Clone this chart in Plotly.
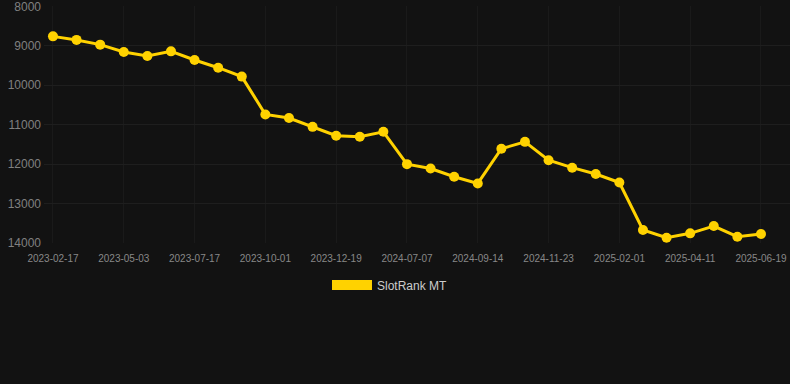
import plotly.graph_objects as go

dates = [
    "2023-02-17", "2023-03-14", "2023-04-08", "2023-05-03", "2023-05-28", "2023-06-22",
    "2023-07-17", "2023-08-11", "2023-09-06", "2023-10-01", "2023-10-27", "2023-11-22",
    "2023-12-19", "2024-02-15", "2024-05-10", "2024-07-07", "2024-07-30", "2024-08-22",
    "2024-09-14", "2024-10-07", "2024-10-31", "2024-11-23", "2024-12-16", "2025-01-09",
    "2025-02-01", "2025-02-24", "2025-03-19", "2025-04-11", "2025-05-04", "2025-05-27",
    "2025-06-19",
]
rank = [
    8760, 8850, 8970, 9155, 9260, 9140,
    9360, 9555, 9780, 10740, 10830, 11055,
    11280, 11305, 11180, 12000, 12110, 12320,
    12490, 11610, 11435, 11900, 12090, 12250,
    12465, 13670, 13865, 13755, 13570, 13840,
    13770,
]
tick_labels = dates[::3]
y_ticks = [8000, 9000, 10000, 11000, 12000, 13000, 14000]
series_name = "SlotRank MT"
gold = "#FFD200"

fig = go.Figure()
fig.add_trace(go.Scatter(
    x=dates, y=rank, mode="lines+markers", name=series_name, showlegend=False,
    line=dict(color=gold, width=3), marker=dict(color=gold, size=10),
))
fig.add_trace(go.Scatter(
    x=[None], y=[None], mode="lines", name=series_name, showlegend=True,
    line=dict(color=gold, width=12),
))

fig.update_layout(
    width=790, height=384,
    paper_bgcolor="#121212", plot_bgcolor="#121212",
    margin=dict(l=44, r=0, t=6, b=141),
    font=dict(family="Liberation Sans, Arial, sans-serif", color="#999999"),
    showlegend=True,
    legend=dict(orientation="h", x=0.4638, xanchor="center", y=-0.177, yanchor="middle",
                font=dict(size=12, color="#cccccc"), itemwidth=40,
                bgcolor="rgba(0,0,0,0)"),
    xaxis=dict(
        type="category", categoryorder="array", categoryarray=dates,
        range=[-0.38, 31.23],
        tickmode="array", tickvals=tick_labels, ticktext=tick_labels,
        showgrid=True, gridcolor="#1a1a1a", gridwidth=1,
        zeroline=False, showline=False, ticks="",
        tickfont=dict(size=10, color="#888888"),
        ticklabelstandoff=8,
    ),
    yaxis=dict(
        range=[14000, 7990],
        tickmode="array", tickvals=y_ticks, ticktext=[str(v) for v in y_ticks],
        showgrid=True, gridcolor="#1e1e1e", gridwidth=1,
        zeroline=False, showline=False, ticks="",
        tickfont=dict(size=12, color="#808080"),
        ticklabelstandoff=2, ticklabeloverflow="allow",
    ),
)

fig.write_html(
    "out.html",
    config={"displayModeBar": False},
    post_script="document.body.style.margin='0';document.body.style.background='#121212';",
)
